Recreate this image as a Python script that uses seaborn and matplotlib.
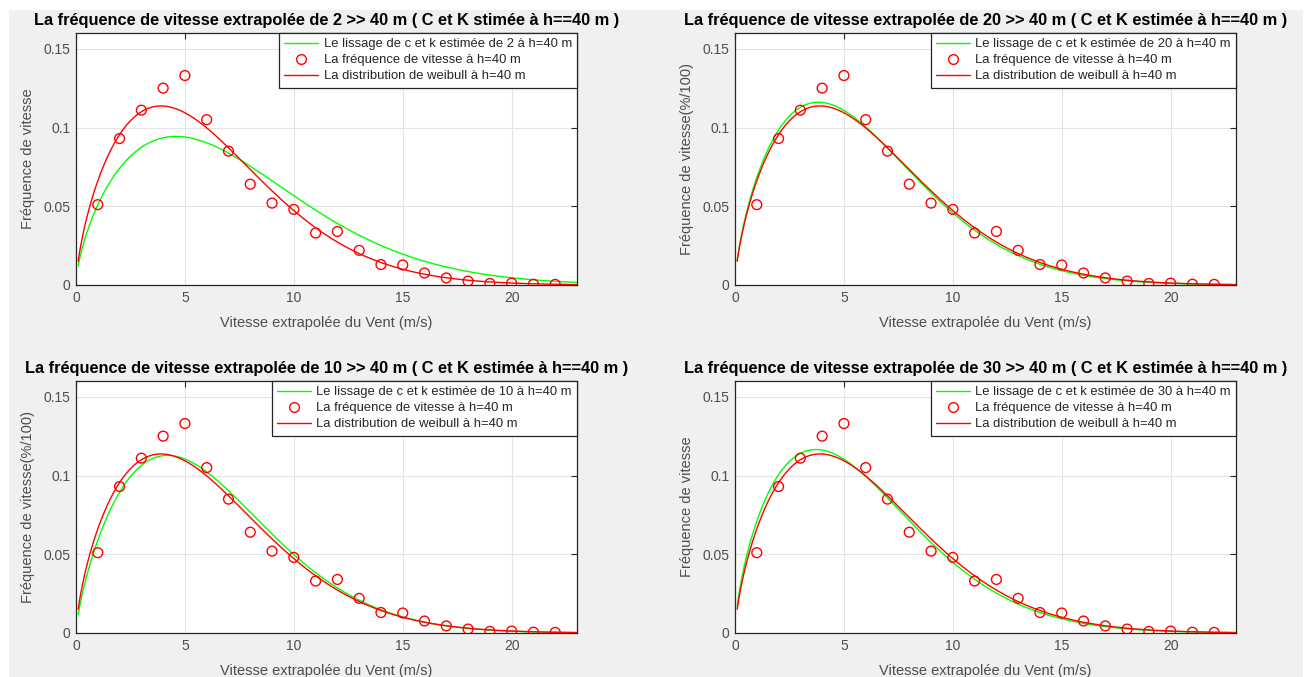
import numpy as np
import pandas as pd
import matplotlib
matplotlib.use("Agg")
import matplotlib.pyplot as plt
import seaborn as sns
from matplotlib.lines import Line2D
from matplotlib.patches import Rectangle

# ---- data ----
speeds = list(range(1, 23))
freq_obs = [0.051, 0.093, 0.111, 0.125, 0.133, 0.105, 0.085, 0.064, 0.052, 0.048, 0.033,
            0.034, 0.022, 0.013, 0.0127, 0.0076, 0.0045, 0.0025, 0.001, 0.0012, 0.0005, 0.0004]

# Weibull parameters (c, k) estimated from the drawn curves
weibull_ref = (6.8, 1.66)          # red: distribution at h=40 m
heights = [2, 20, 10, 30]          # panel order: TL, TR, BL, BR
weibull_fit = [(8.15, 1.64), (6.66, 1.66), (6.97, 1.72), (6.6, 1.64)]  # green curves

titles = [
    "La fréquence de vitesse extrapolée de 2 >> 40 m ( C et K stimée à h==40 m )",
    "La fréquence de vitesse extrapolée de 20 >> 40 m ( C et K estimée à h==40 m )",
    "La fréquence de vitesse extrapolée de 10 >> 40 m ( C et K estimée à h==40 m )",
    "La fréquence de vitesse extrapolée de 30 >> 40 m ( C et K estimée à h==40 m )",
]
ylabels = ["Fréquence de vitesse", "Fréquence de vitesse(%/100)",
           "Fréquence de vitesse(%/100)", "Fréquence de vitesse"]
xlabel = "Vitesse extrapolée du Vent (m/s)"
legend_fit = "Le lissage de c et k estimée de {} à h=40 m"
legend_obs = "La fréquence de vitesse à h=40 m"
legend_ref = "La distribution de weibull à h=40 m"
xticks = [0, 5, 10, 15, 20]
yticks = [0, 0.05, 0.1, 0.15]

sns.set_style("white")
plt.rcParams['font.family'] = ['Liberation Sans', 'DejaVu Sans']

W, H = 1309, 677
fig = plt.figure(figsize=(W / 100, H / 100), dpi=100)
fig.patch.set_facecolor("white")
fig.patches.append(Rectangle((9 / W, 0), (1303 - 9) / W, (H - 10) / H,
                             transform=fig.transFigure, facecolor="#F0F0F0",
                             edgecolor="none", zorder=-10))

def weib(v, c, k):
    return (k / c) * (v / c) ** (k - 1) * np.exp(-(v / c) ** k)

vgrid = np.linspace(0.1, 23, 400)
tc = "#262626"
positions = [(76, 33), (735, 33), (76, 381), (735, 381)]
aw, ah = 501, 252

for i, (px, py) in enumerate(positions):
    ax = fig.add_axes([px / W, 1 - (py + ah) / H, aw / W, ah / H])
    ax.set_facecolor("white")
    c, k = weibull_fit[i]
    cr, kr = weibull_ref
    df = pd.DataFrame({"v": vgrid, "fit": weib(vgrid, c, k), "ref": weib(vgrid, cr, kr)})
    sns.lineplot(data=df, x="v", y="fit", ax=ax, color="#00FF00", lw=1.0, zorder=3)
    sns.lineplot(data=df, x="v", y="ref", ax=ax, color="#FF0000", lw=1.0, zorder=4)
    obs = pd.DataFrame({"v": speeds, "f": freq_obs})
    sns.scatterplot(data=obs, x="v", y="f", ax=ax, marker="o", s=50,
                    facecolors="none", edgecolor="#FF0000", linewidth=1.0, zorder=5)
    ax.set_xlim(0, 23)
    ax.set_ylim(0, 0.16)
    ax.set_xticks(xticks)
    ax.set_yticks(yticks)
    ax.set_yticklabels(["0", "0.05", "0.1", "0.15"])
    ax.grid(True, color="#E3E3E3", lw=0.8)
    ax.set_axisbelow(True)
    for s in ax.spines.values():
        s.set_color(tc)
        s.set_linewidth(0.9)
        s.set_visible(True)
    ax.tick_params(direction="in", length=4, width=0.8, colors=tc, labelsize=10,
                   top=True, right=True, labelcolor="#4D4D4D", pad=4)
    ax.set_title(titles[i], fontsize=11.8, fontweight="bold", color="black", pad=6)
    ax.set_xlabel(xlabel, fontsize=10.5, color="#4D4D4D", labelpad=8)
    ax.set_ylabel(ylabels[i], fontsize=10.5, color="#4D4D4D", labelpad=6)
    handles = [Line2D([], [], color="#00FF00", lw=1.0),
               Line2D([], [], color="#FF0000", marker="o", ls="none", markerfacecolor="none",
                      markersize=7),
               Line2D([], [], color="#FF0000", lw=1.0)]
    leg = ax.legend(handles, [legend_fit.format(heights[i]), legend_obs, legend_ref],
                    loc="upper right", bbox_to_anchor=(1.0, 1.0), fontsize=9.4,
                    frameon=True, fancybox=False, borderpad=0.4, labelspacing=0.3,
                    handlelength=2.6, handletextpad=0.4, borderaxespad=0.0)
    leg.get_frame().set_edgecolor(tc)
    leg.get_frame().set_linewidth(0.9)
    leg.get_frame().set_alpha(1)

fig.savefig("out.png", dpi=100, facecolor=fig.get_facecolor())
